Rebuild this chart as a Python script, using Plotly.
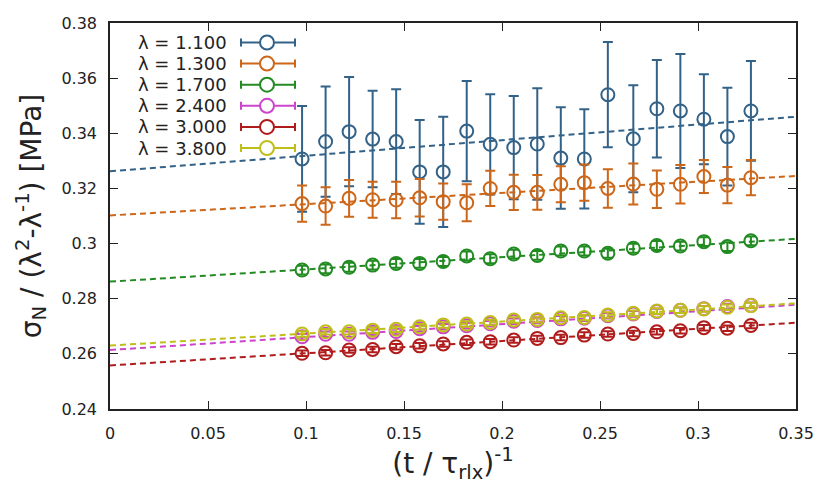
import plotly.graph_objects as go

# ---------------- data ----------------
x_vals = [0.098, 0.110, 0.122, 0.134, 0.146, 0.158, 0.170, 0.182, 0.194, 0.206,
          0.218, 0.230, 0.242, 0.254, 0.267, 0.279, 0.291, 0.303, 0.315, 0.327]

labels = ["λ = 1.100", "λ = 1.300", "λ = 1.700", "λ = 2.400", "λ = 3.000", "λ = 3.800"]
colors = ["#336288", "#cc6619", "#228b22", "#cc44cc", "#b01c1c", "#bfbf1a"]

y_l11 = [0.3307, 0.3370, 0.3406, 0.3379, 0.3370, 0.3260, 0.3260, 0.3408, 0.3360, 0.3348,
         0.3361, 0.3310, 0.3307, 0.3540, 0.3380, 0.3489, 0.3481, 0.3451, 0.3388, 0.3481]
e_l11 = [0.0192, 0.0200, 0.0198, 0.0175, 0.0190, 0.0188, 0.0200, 0.0182, 0.0182, 0.0187,
         0.0202, 0.0184, 0.0180, 0.0191, 0.0194, 0.0177, 0.0207, 0.0163, 0.0177, 0.0181]

y_l13 = [0.3145, 0.3136, 0.3164, 0.3159, 0.3158, 0.3166, 0.3152, 0.3148, 0.3200, 0.3186,
         0.3186, 0.3215, 0.3221, 0.3200, 0.3216, 0.3197, 0.3215, 0.3243, 0.3212, 0.3239]
e_l13 = [0.0066, 0.0068, 0.0067, 0.0065, 0.0066, 0.0068, 0.0066, 0.0067, 0.0064, 0.0064,
         0.0063, 0.0065, 0.0066, 0.0070, 0.0074, 0.0068, 0.0070, 0.0060, 0.0066, 0.0064]

y_l17 = [0.2904, 0.2908, 0.2914, 0.2922, 0.2928, 0.2928, 0.2935, 0.2955, 0.2945, 0.2962,
         0.2957, 0.2973, 0.2973, 0.2965, 0.2983, 0.2993, 0.2991, 0.3007, 0.2989, 0.3010]
e_l17 = [0.0016] * 20

y_l24 = [0.2662, 0.2671, 0.2671, 0.2678, 0.2681, 0.2691, 0.2698, 0.2702, 0.2709, 0.2718,
         0.2721, 0.2727, 0.2729, 0.2738, 0.2745, 0.2754, 0.2758, 0.2764, 0.2772, 0.2776]
e_l24 = [0.0010] * 20

y_l30 = [0.2602, 0.2604, 0.2614, 0.2616, 0.2626, 0.2629, 0.2636, 0.2642, 0.2644, 0.2650,
         0.2656, 0.2659, 0.2668, 0.2672, 0.2674, 0.2680, 0.2684, 0.2695, 0.2693, 0.2703]
e_l30 = [0.0010] * 20

y_l38 = [0.2672, 0.2680, 0.2680, 0.2686, 0.2689, 0.2698, 0.2705, 0.2708, 0.2714, 0.2723,
         0.2725, 0.2731, 0.2732, 0.2741, 0.2747, 0.2755, 0.2758, 0.2763, 0.2769, 0.2775]
e_l38 = [0.0010] * 20

# linear fit parameters (intercept, slope)
fit_a = [0.3262, 0.3102, 0.2862, 0.2614, 0.2558, 0.2630]
fit_b = [0.0566, 0.0409, 0.0443, 0.0469, 0.0443, 0.0437]
fit_x = [0.0, 0.35]

x_ticks = [0, 0.05, 0.1, 0.15, 0.2, 0.25, 0.3, 0.35]
x_ticktext = ["0", "0.05", "0.1", "0.15", "0.2", "0.25", "0.3", "0.35"]
y_ticks = [0.24, 0.26, 0.28, 0.30, 0.32, 0.34, 0.36, 0.38]
y_ticktext = ["0.24", "0.26", "0.28", "0.3", "0.32", "0.34", "0.36", "0.38"]

series_y = [y_l11, y_l13, y_l17, y_l24, y_l30, y_l38]
series_e = [e_l11, e_l13, e_l17, e_l24, e_l30, e_l38]

# ---------------- figure ----------------
# page body has an 8px margin; compensate so the plot lands where the reference has it
W, H = 822, 490
ML, MR, MT, MB = 102, 34, 15, 89
PW, PH = W - ML - MR, H - MT - MB

fig = go.Figure()
for i in range(6):
    c = colors[i]
    fy = [fit_a[i] + fit_b[i] * xx for xx in fit_x]
    fig.add_trace(go.Scatter(x=fit_x, y=fy, mode="lines",
                             line=dict(color=c, width=2, dash="6px,4px"),
                             showlegend=False, hoverinfo="skip"))
    fig.add_trace(go.Scatter(x=x_vals, y=series_y[i], mode="markers", name=labels[i],
                             marker=dict(symbol="circle-open", size=13, color=c,
                                         line=dict(width=2, color=c)),
                             error_y=dict(type="data", array=series_e[i], visible=True,
                                          color=c, thickness=2, width=5),
                             showlegend=False))

# custom legend (gnuplot style: text then sample); positions in page px minus body offset
OFF = 8

def px2paper_x(px):
    return (px - OFF - ML) / PW

def px2paper_y(py):
    return (H - MB - (py - OFF)) / PH

shapes = []
annotations = []
row0, drow = 42.5, 21.1
for i in range(6):
    c = colors[i]
    py = row0 + i * drow
    annotations.append(dict(x=px2paper_x(229), y=px2paper_y(py), xref="paper", yref="paper",
                            text=labels[i], showarrow=False, xanchor="right", yanchor="middle",
                            font=dict(family="DejaVu Sans", size=18, color="#222")))
    shapes.append(dict(type="line", xref="paper", yref="paper",
                       x0=px2paper_x(241), x1=px2paper_x(295),
                       y0=px2paper_y(py), y1=px2paper_y(py),
                       line=dict(color=c, width=2)))
    for ex in (241, 295):
        shapes.append(dict(type="line", xref="paper", yref="paper",
                           x0=px2paper_x(ex), x1=px2paper_x(ex),
                           y0=px2paper_y(py - 4), y1=px2paper_y(py + 4),
                           line=dict(color=c, width=2)))
    r = 7
    shapes.append(dict(type="circle", xref="paper", yref="paper",
                       x0=px2paper_x(267 - r), x1=px2paper_x(267 + r),
                       y0=px2paper_y(py + r), y1=px2paper_y(py - r),
                       fillcolor="white", line=dict(color=c, width=2)))

axis_common = dict(showgrid=False, zeroline=False, showline=True, linecolor="#222",
                   linewidth=1.5, mirror="allticks", ticks="inside", ticklen=8,
                   tickwidth=1.2, tickcolor="#222",
                   tickfont=dict(family="DejaVu Sans", size=16, color="#222"))

fig.update_layout(
    width=W, height=H,
    margin=dict(l=ML, r=MR, t=MT, b=MB, autoexpand=False),
    paper_bgcolor="white", plot_bgcolor="white",
    font=dict(family="DejaVu Sans", color="#222"),
    xaxis=dict(range=[0, 0.35], tickvals=x_ticks, ticktext=x_ticktext,
               title=dict(text="(t / τ<sub>rlx</sub>)<sup>-1</sup>",
                          font=dict(family="DejaVu Sans", size=28, color="#222"), standoff=10),
               ticklabelstandoff=9,
               **axis_common),
    yaxis=dict(range=[0.24, 0.38], tickvals=y_ticks, ticktext=y_ticktext,
               title=dict(text="σ<sub>N</sub> / (λ<sup>2</sup>-λ<sup>-1</sup>) [MPa]",
                          font=dict(family="DejaVu Sans", size=28, color="#222"), standoff=12),
               ticklabelstandoff=8,
               **axis_common),
    shapes=shapes,
    annotations=annotations,
    showlegend=False,
)

fig.write_html("out.html")
